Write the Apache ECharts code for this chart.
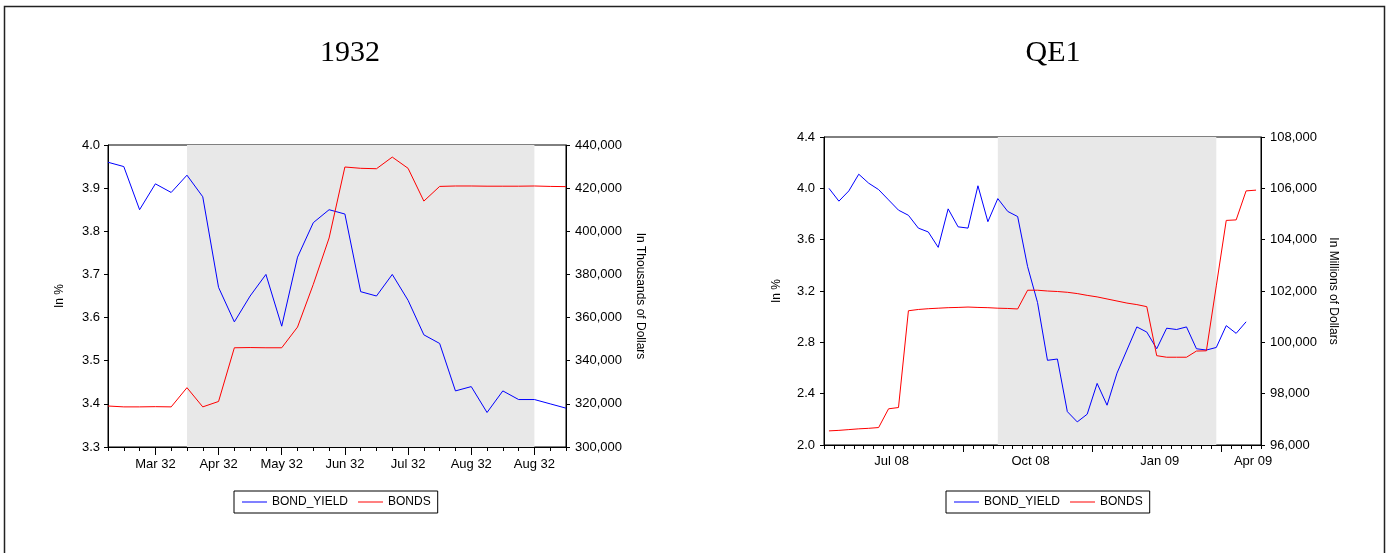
<!DOCTYPE html>
<html>
<head>
<meta charset="utf-8">
<script src="https://cdn.jsdelivr.net/npm/echarts@6/dist/echarts.min.js"></script>
<style>
  html, body { margin: 0; padding: 0; background: #fff; }
  #main { width: 1392px; height: 553px; }
</style>
</head>
<body>
<div id="main"></div>
<script>
// 1932 weekly data
const bondYield32 = [3.96, 3.95, 3.85, 3.91, 3.89, 3.93, 3.88, 3.67, 3.59, 3.65,
  3.70, 3.58, 3.74, 3.82, 3.85, 3.84, 3.66, 3.65, 3.70, 3.64,
  3.56, 3.54, 3.43, 3.44, 3.38, 3.43, 3.41, 3.41, 3.40, 3.39]
const bonds32 = [319000, 318600, 318600, 318700, 318600, 327500, 318600, 321100, 346000, 346100,
  346000, 346000, 355600, 375400, 396900, 429800, 429200, 429000, 434400, 429200,
  414000, 420800, 421000, 421000, 420900, 420900, 420900, 421000, 420800, 420700]
const weeks32 = bondYield32.map((_, i) => 'w' + (i + 1))
const ticks32 = ['Mar 32', 'Apr 32', 'May 32', 'Jun 32', 'Jul 32', 'Aug 32', 'Aug 32']
const tickIdx32 = [3, 7, 11, 15, 19, 23, 27]
const shade32 = [5, 27]

// QE1 weekly data (2008-09)
const bondYieldQE = [4.00, 3.90, 3.98, 4.11, 4.04, 3.99, 3.91, 3.83, 3.79, 3.69,
  3.66, 3.54, 3.84, 3.70, 3.69, 4.02, 3.74, 3.92, 3.82, 3.78,
  3.39, 3.11, 2.66, 2.67, 2.26, 2.18, 2.24, 2.48, 2.31, 2.56,
  2.74, 2.92, 2.88, 2.75, 2.91, 2.90, 2.92, 2.75, 2.74, 2.76,
  2.93, 2.87, 2.96, null]
const bondsQE = [96550, 96570, 96600, 96630, 96650, 96680, 97410, 97460, 101230, 101280,
  101310, 101330, 101350, 101360, 101375, 101360, 101350, 101330, 101320, 101300,
  102030, 102030, 102000, 101980, 101950, 101900, 101830, 101770, 101690, 101610,
  101530, 101470, 101390, 99480, 99420, 99420, 99420, 99660, 99670, 102200,
  104750, 104770, 105900, 105930]
const weeksQE = bondsQE.map((_, i) => 'w' + (i + 1))
const ticksQE = ['Jul 08', 'Oct 08', 'Jan 09', 'Apr 09']
const labelPosQE = [6.3, 20.3, 33.3, 42.7]
const quarterEdgeQE = [13.5, 26.5, 39.5]
const shadeQE = [17, 39]
// week boundaries (ticks sit between the weekly points on this chart)
const weekEdgeQE = weeksQE.map((_, i) => i - 0.5).concat([weeksQE.length - 0.5])

const FONT = 'Liberation Sans'
const fmtThousands = v => v.toLocaleString('en-US')

function yAxisBase(extra) {
  return Object.assign({
    type: 'value',
    axisLine: { show: true, onZero: false, lineStyle: { color: '#000' } },
    axisTick: { show: true, length: 4, lineStyle: { color: '#000' } },
    splitLine: { show: false },
    nameLocation: 'middle',
    nameTextStyle: { color: '#000', fontFamily: FONT, fontSize: 12 },
  }, extra)
}

function labelFor(positions, labels) {
  return v => {
    const k = positions.findIndex(p => Math.abs(p - v) < 0.01)
    return k >= 0 ? labels[k] : ''
  }
}

const legendBase = {
  data: ['BOND_YIELD', 'BONDS'], orient: 'horizontal', icon: 'rect',
  itemWidth: 25, itemHeight: 1, itemGap: 10, padding: [5, 7, 5, 8],
  borderColor: '#000', borderWidth: 1, borderRadius: 0,
  textStyle: { fontFamily: FONT, fontSize: 12, color: '#000' },
}

const chart = echarts.init(document.getElementById('main'))
const option = {
  animation: false,
  backgroundColor: '#fff',
  graphic: [{
    type: 'rect',
    shape: { x: 4.5, y: 6.5, width: 1380, height: 560 },
    style: { fill: 'none', stroke: '#222', lineWidth: 1.5 },
  }],
  title: [
    { text: '1932', left: 345, top: 33, textAlign: 'center',
      textStyle: { fontFamily: 'Liberation Serif', fontSize: 30, fontWeight: 'normal', color: '#000' } },
    { text: 'QE1', left: 1048, top: 33, textAlign: 'center',
      textStyle: { fontFamily: 'Liberation Serif', fontSize: 30, fontWeight: 'normal', color: '#000' } },
  ],
  legend: [
    Object.assign({ left: 234, top: 491 }, legendBase),
    Object.assign({ left: 946, top: 491 }, legendBase),
  ],
  grid: [
    { left: 108, top: 145, width: 458, height: 302, show: true,
      borderColor: '#000', borderWidth: 1, backgroundColor: 'transparent' },
    { left: 824, top: 137, width: 437, height: 308, show: true,
      borderColor: '#000', borderWidth: 1, backgroundColor: 'transparent' },
  ],
  xAxis: [
    // 1932: week ticks
    { type: 'category', gridIndex: 0, data: weeks32, boundaryGap: false,
      axisLine: { onZero: false, lineStyle: { color: '#000' } },
      axisTick: { interval: 0, length: 4, lineStyle: { color: '#000' } },
      axisLabel: { show: false }, splitLine: { show: false } },
    // 1932: month ticks + labels
    { type: 'value', gridIndex: 0, min: 0, max: weeks32.length - 1, position: 'bottom',
      axisLine: { show: false, onZero: false }, splitLine: { show: false },
      axisTick: { show: true, length: 8, customValues: tickIdx32, lineStyle: { color: '#000' } },
      axisLabel: { show: true, customValues: tickIdx32, margin: 11, color: '#000',
        fontFamily: FONT, fontSize: 13, formatter: labelFor(tickIdx32, ticks32) } },
    // QE1: weekly categories (line + data)
    { type: 'category', gridIndex: 1, data: weeksQE, boundaryGap: true,
      axisLine: { onZero: false, lineStyle: { color: '#000' } },
      axisTick: { show: false },
      axisLabel: { show: false }, splitLine: { show: false } },
    // QE1: quarter ticks + labels
    { type: 'value', gridIndex: 1, min: -0.5, max: weeksQE.length - 0.5, position: 'bottom',
      axisLine: { show: false, onZero: false }, splitLine: { show: false },
      axisTick: { show: true, length: 7, customValues: quarterEdgeQE, lineStyle: { color: '#000' } },
      axisLabel: { show: true, customValues: labelPosQE, margin: 10, color: '#000',
        fontFamily: FONT, fontSize: 13, formatter: labelFor(labelPosQE, ticksQE) } },
    // QE1: week ticks
    { type: 'value', gridIndex: 1, min: -0.5, max: weeksQE.length - 0.5, position: 'bottom',
      axisLine: { show: false, onZero: false }, splitLine: { show: false },
      axisTick: { show: true, length: 4, customValues: weekEdgeQE, lineStyle: { color: '#000' } },
      axisLabel: { show: false } },
  ],
  yAxis: [
    yAxisBase({ gridIndex: 0, position: 'left', min: 3.3, max: 4.0, interval: 0.1,
      name: 'In %', nameGap: 42, nameRotate: 90,
      axisLabel: { color: '#000', fontFamily: FONT, fontSize: 13, margin: 8, formatter: v => v.toFixed(1) } }),
    yAxisBase({ gridIndex: 0, position: 'right', min: 300000, max: 440000, interval: 20000,
      name: 'In Thousands of Dollars', nameGap: 68, nameRotate: -90,
      axisLabel: { color: '#000', fontFamily: FONT, fontSize: 13, margin: 9, formatter: fmtThousands } }),
    yAxisBase({ gridIndex: 1, position: 'left', min: 2.0, max: 4.4, interval: 0.4,
      name: 'In %', nameGap: 41, nameRotate: 90,
      axisLabel: { color: '#000', fontFamily: FONT, fontSize: 13, margin: 9, formatter: v => v.toFixed(1) } }),
    yAxisBase({ gridIndex: 1, position: 'right', min: 96000, max: 108000, interval: 2000,
      name: 'In Millions of Dollars', nameGap: 66, nameRotate: -90,
      axisLabel: { color: '#000', fontFamily: FONT, fontSize: 13, margin: 9, formatter: fmtThousands } }),
  ],
  series: [
    { name: 'BOND_YIELD', type: 'line', xAxisIndex: 0, yAxisIndex: 0, data: bondYield32,
      symbol: 'none', color: '#0000ff', lineStyle: { width: 1, color: '#0000ff' }, z: 3,
      markArea: { silent: true, itemStyle: { color: '#e8e8e8' },
        data: [[{ xAxis: shade32[0] }, { xAxis: shade32[1] }]] } },
    { name: 'BONDS', type: 'line', xAxisIndex: 0, yAxisIndex: 1, data: bonds32,
      symbol: 'none', color: '#ff0000', lineStyle: { width: 1, color: '#ff0000' }, z: 3 },
    { name: 'BOND_YIELD', type: 'line', xAxisIndex: 2, yAxisIndex: 2, data: bondYieldQE,
      symbol: 'none', color: '#0000ff', lineStyle: { width: 1, color: '#0000ff' }, z: 3,
      markArea: { silent: true, itemStyle: { color: '#e8e8e8' },
        data: [[{ xAxis: shadeQE[0] }, { xAxis: shadeQE[1] }]] } },
    { name: 'BONDS', type: 'line', xAxisIndex: 2, yAxisIndex: 3, data: bondsQE,
      symbol: 'none', color: '#ff0000', lineStyle: { width: 1, color: '#ff0000' }, z: 3 },
  ],
}
chart.setOption(option)
</script>
</body>
</html>
